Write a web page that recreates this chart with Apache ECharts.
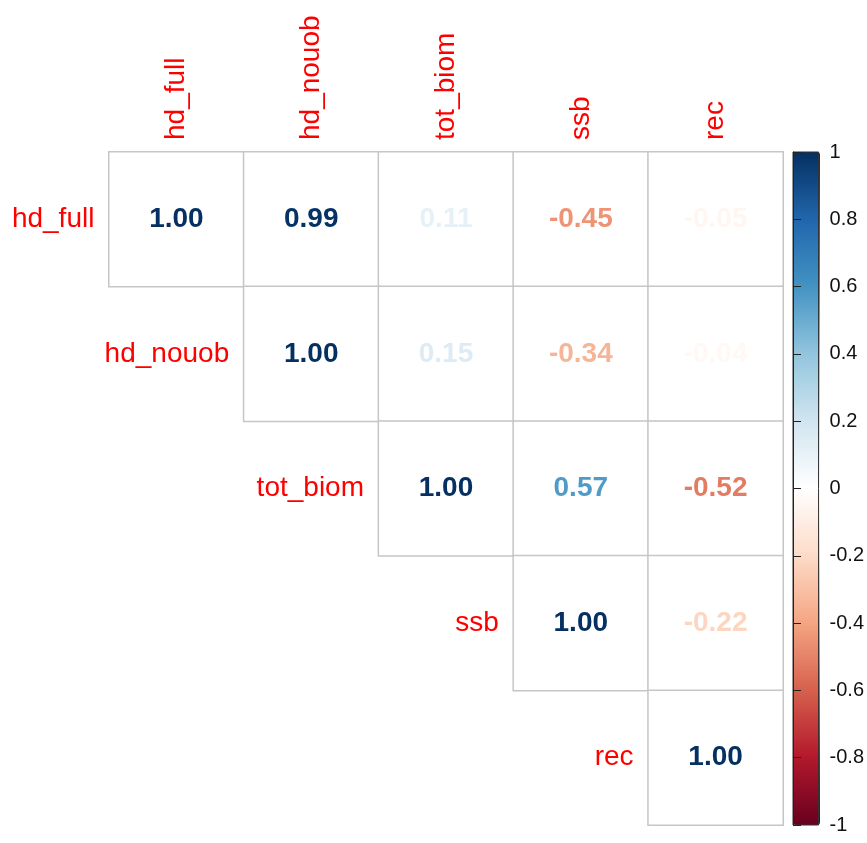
<!DOCTYPE html>
<html>
<head>
<meta charset="utf-8">
<script src="https://cdn.jsdelivr.net/npm/echarts@6/dist/echarts.min.js"></script>
<style>html,body{margin:0;padding:0;background:#fff;}#c{width:867px;height:843px;}</style>
</head>
<body>
<div id="c"></div>
<script>
var vars = ['hd_full', 'hd_nouob', 'tot_biom', 'ssb', 'rec'];
// upper triangle rows (starting at the diagonal)
var row_hd_full  = [1.00, 0.99, 0.11, -0.45, -0.05];
var row_hd_nouob = [1.00, 0.15, -0.34, -0.04];
var row_tot_biom = [1.00, 0.57, -0.52];
var row_ssb      = [1.00, -0.22];
var row_rec      = [1.00];
var colorTicks = [-1, -0.8, -0.6, -0.4, -0.2, 0, 0.2, 0.4, 0.6, 0.8, 1];
var palette = ['#67001F', '#B2182B', '#D6604D', '#F4A582', '#FDDBC7', '#FFFFFF', '#D1E5F0', '#92C5DE', '#4393C3', '#2166AC', '#053061'];

var rows = [row_hd_full, row_hd_nouob, row_tot_biom, row_ssb, row_rec];
var cells = [], vals = [], diag = [];
rows.forEach(function (r, i) {
  r.forEach(function (v, k) {
    var j = i + k;
    cells.push([j, i, 0]);
    vals.push([j, i, v]);
  });
  diag.push([i, i]);
});

var FONT = '"Liberation Sans", Arial, sans-serif';
var chart = echarts.init(document.getElementById('c'));
chart.setOption({
  animation: false,
  backgroundColor: '#ffffff',
  grid: [
    {left: 109, top: 152, width: 674, height: 673},
    {left: 793, top: 152, width: 27, height: 673, show: true, z: 5,
     backgroundColor: 'transparent', borderColor: '#333', borderWidth: 1}
  ],
  xAxis: [
    {type: 'category', data: vars, gridIndex: 0, position: 'top',
     axisLine: {show: false}, axisTick: {show: false}, splitLine: {show: false},
     axisLabel: {rotate: -90, margin: 12, color: '#ff0000', fontSize: 28, fontFamily: FONT}},
    {type: 'value', gridIndex: 1, show: false, min: 0, max: 1}
  ],
  yAxis: [
    {type: 'category', data: vars, gridIndex: 0, inverse: true, show: false},
    {type: 'value', gridIndex: 1, min: colorTicks[0], max: colorTicks[colorTicks.length - 1], interval: 0.2, position: 'right',
     z: 6,
     axisLine: {show: true, lineStyle: {color: '#222', width: 1}},
     axisTick: {show: true, inside: false, length: 8, lineStyle: {color: '#222', width: 1}},
     splitLine: {show: false},
     axisLabel: {margin: 11, color: '#111', fontSize: 20, fontFamily: FONT,
       formatter: function (v) { return String(parseFloat(v.toFixed(1))); }}}
  ],
  visualMap: {
    type: 'continuous', min: -1, max: 1, seriesIndex: 1, dimension: 2,
    left: 793, top: 152, itemWidth: 27, itemHeight: 673, padding: 0,
    calculable: false, hoverLink: false, text: null, showLabel: false,
    inRange: {color: palette}, z: 1
  },
  series: [
    {type: 'heatmap', xAxisIndex: 0, yAxisIndex: 0, data: cells,
     itemStyle: {color: '#ffffff', borderColor: '#c6c6c6', borderWidth: 1.5},
     label: {show: false}, emphasis: {disabled: true}},
    {type: 'scatter', xAxisIndex: 0, yAxisIndex: 0, data: vals, symbolSize: 0,
     encode: {x: 0, y: 1}, itemStyle: {opacity: 1},
     label: {show: true, position: 'inside', color: 'inherit', fontSize: 28, fontWeight: 'bold',
       opacity: 1, fontFamily: FONT, formatter: function (p) { return p.value[2].toFixed(2); }},
     emphasis: {disabled: true}},
    {type: 'scatter', xAxisIndex: 0, yAxisIndex: 0, data: diag, symbolSize: 0,
     itemStyle: {opacity: 1},
     label: {show: true, position: 'inside', align: 'right', offset: [-82, 0], opacity: 1,
       color: '#ff0000', fontSize: 28, fontFamily: FONT,
       formatter: function (p) { return vars[p.value[1]]; }},
     emphasis: {disabled: true}}
  ]
});
</script>
</body>
</html>
